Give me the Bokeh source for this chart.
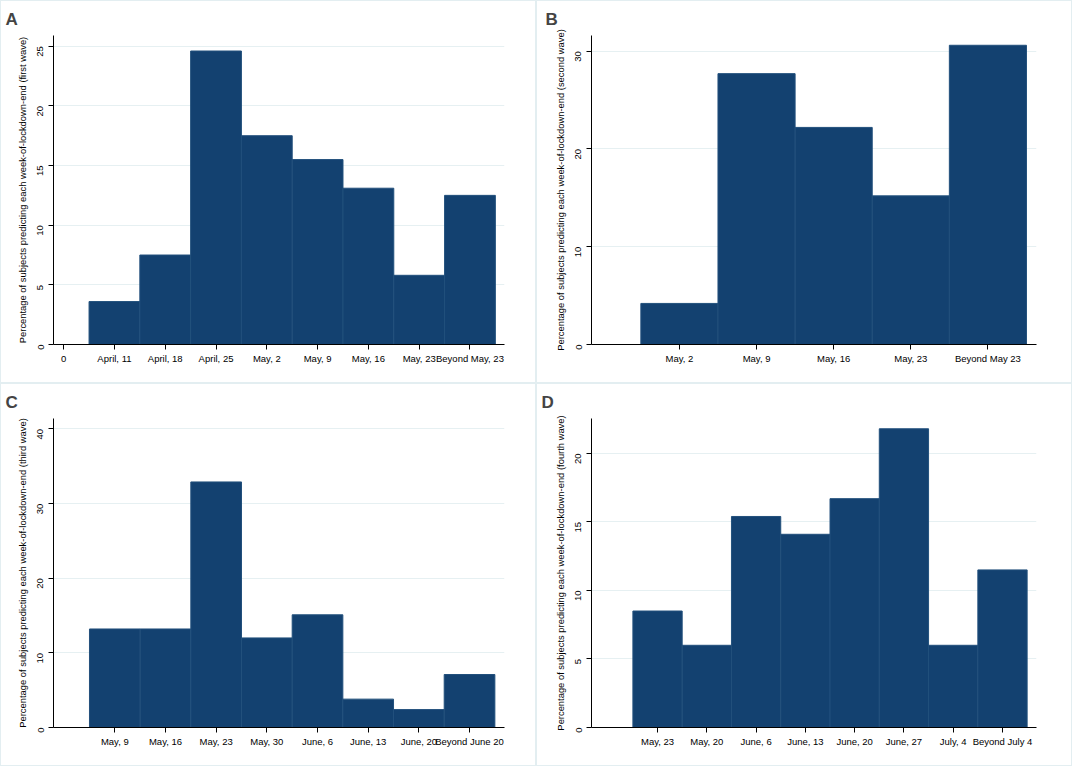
import math
from bokeh.plotting import figure
from bokeh.layouts import gridplot
from bokeh.models import FixedTicker, Range1d
from bokeh.embed import file_html
from bokeh.resources import INLINE

# ---- data ----
a_labels = ["0", "April, 11", "April, 18", "April, 25", "May, 2", "May, 9", "May, 16", "May, 23", "Beyond May, 23"]
a_values = [3.6, 7.5, 24.6, 17.5, 15.5, 13.1, 5.8, 12.5]

b_labels = ["May, 2", "May, 9", "May, 16", "May, 23", "Beyond May 23"]
b_values = [4.2, 27.7, 22.2, 15.2, 30.6]

c_labels = ["May, 9", "May, 16", "May, 23", "May, 30", "June, 6", "June, 13", "June, 20", "Beyond June 20"]
c_values = [13.2, 13.2, 32.9, 12.0, 15.1, 3.8, 2.4, 7.1]

d_labels = ["May, 23", "May, 20", "June, 6", "June, 13", "June, 20", "June, 27", "July, 4", "Beyond July 4"]
d_values = [8.5, 6.0, 15.4, 14.1, 16.7, 21.8, 6.0, 11.5]

a_yticks = [0, 5, 10, 15, 20, 25]
b_yticks = [0, 10, 20, 30]
c_yticks = [0, 10, 20, 30, 40]
d_yticks = [0, 5, 10, 15, 20]

FONT = "Liberation Sans"
FILL = "#134170"
EDGE = "#22507c"
GRID = "#e6f0f2"


def panel(letter, labels, values, yticks, ylabel, first_tick, xr, ytop, borders):
    left, right, top, bottom = borders
    p = figure(width=536, height=383, output_backend="svg", toolbar_location=None,
               x_range=Range1d(*xr), y_range=Range1d(0, ytop),
               min_border_left=left, min_border_right=right,
               min_border_top=top, min_border_bottom=bottom)
    p.styles = {"border": "1px solid #e3eef1"}
    xs = list(range(1, len(values) + 1))
    p.vbar(x=xs, top=values, width=1.0, bottom=0, fill_color=FILL, line_color=EDGE, line_width=1)

    tick_pos = list(range(first_tick, first_tick + len(labels)))
    p.xaxis.ticker = FixedTicker(ticks=tick_pos)
    p.xaxis.major_label_overrides = {t: l for t, l in zip(tick_pos, labels)}
    p.yaxis.ticker = FixedTicker(ticks=yticks)

    for ax in (p.xaxis[0], p.yaxis[0]):
        ax.axis_line_color = "black"
        ax.major_tick_line_color = "black"
        ax.minor_tick_line_color = None
        ax.major_tick_out = 5
        ax.major_tick_in = 0
        ax.major_label_text_font = FONT
        ax.major_label_text_font_size = "9.5px"
        ax.major_label_text_color = "black"
        ax.major_label_standoff = 3
    p.yaxis.major_label_orientation = math.pi / 2
    p.yaxis.major_label_standoff = 8
    p.yaxis.axis_label = ylabel
    p.yaxis.axis_label_text_font = FONT
    p.yaxis.axis_label_text_font_size = "9.4px"
    p.yaxis.axis_label_text_font_style = "normal"
    p.yaxis.axis_label_text_color = "black"
    p.yaxis.axis_label_standoff = 4

    p.xgrid.grid_line_color = None
    p.ygrid.grid_line_color = GRID
    p.ygrid.grid_line_width = 1
    p.outline_line_color = None
    p.background_fill_color = "white"
    p.border_fill_color = "white"

    p.title.text = letter
    p.title.text_font = FONT
    p.title.text_font_size = "17px"
    p.title.text_font_style = "bold"
    p.title.align = "left"
    p.title.offset = -(left - 4)
    p.title.standoff = 13
    return p


pa = panel("A", a_labels, a_values, a_yticks,
           "Percentage of subjects predicting each week-of-lockdown-end (first wave)",
           0, (-0.2, 8.68), 25.9, (52, 33, 34, 38))
pb = panel("B", b_labels, b_values, b_yticks,
           "Percentage of subjects predicting each week-of-lockdown-end (second wave)",
           1, (-0.14, 5.63), 31.6, (50, 37, 34, 40))
pc = panel("C", c_labels, c_values, c_yticks,
           "Percentage of subjects predicting each week-of-lockdown-end (third wave)",
           1, (-0.21, 8.69), 41.4, (52, 33, 34, 40))
pd_ = panel("D", d_labels, d_values, d_yticks,
            "Percentage of subjects predicting each week-of-lockdown-end (fourth wave)",
            1, (-0.34, 8.69), 22.55, (54, 37, 34, 40))

grid = gridplot([[pa, pb], [pc, pd_]], toolbar_location=None)

open("out.html", "w").write(file_html(grid, INLINE))
